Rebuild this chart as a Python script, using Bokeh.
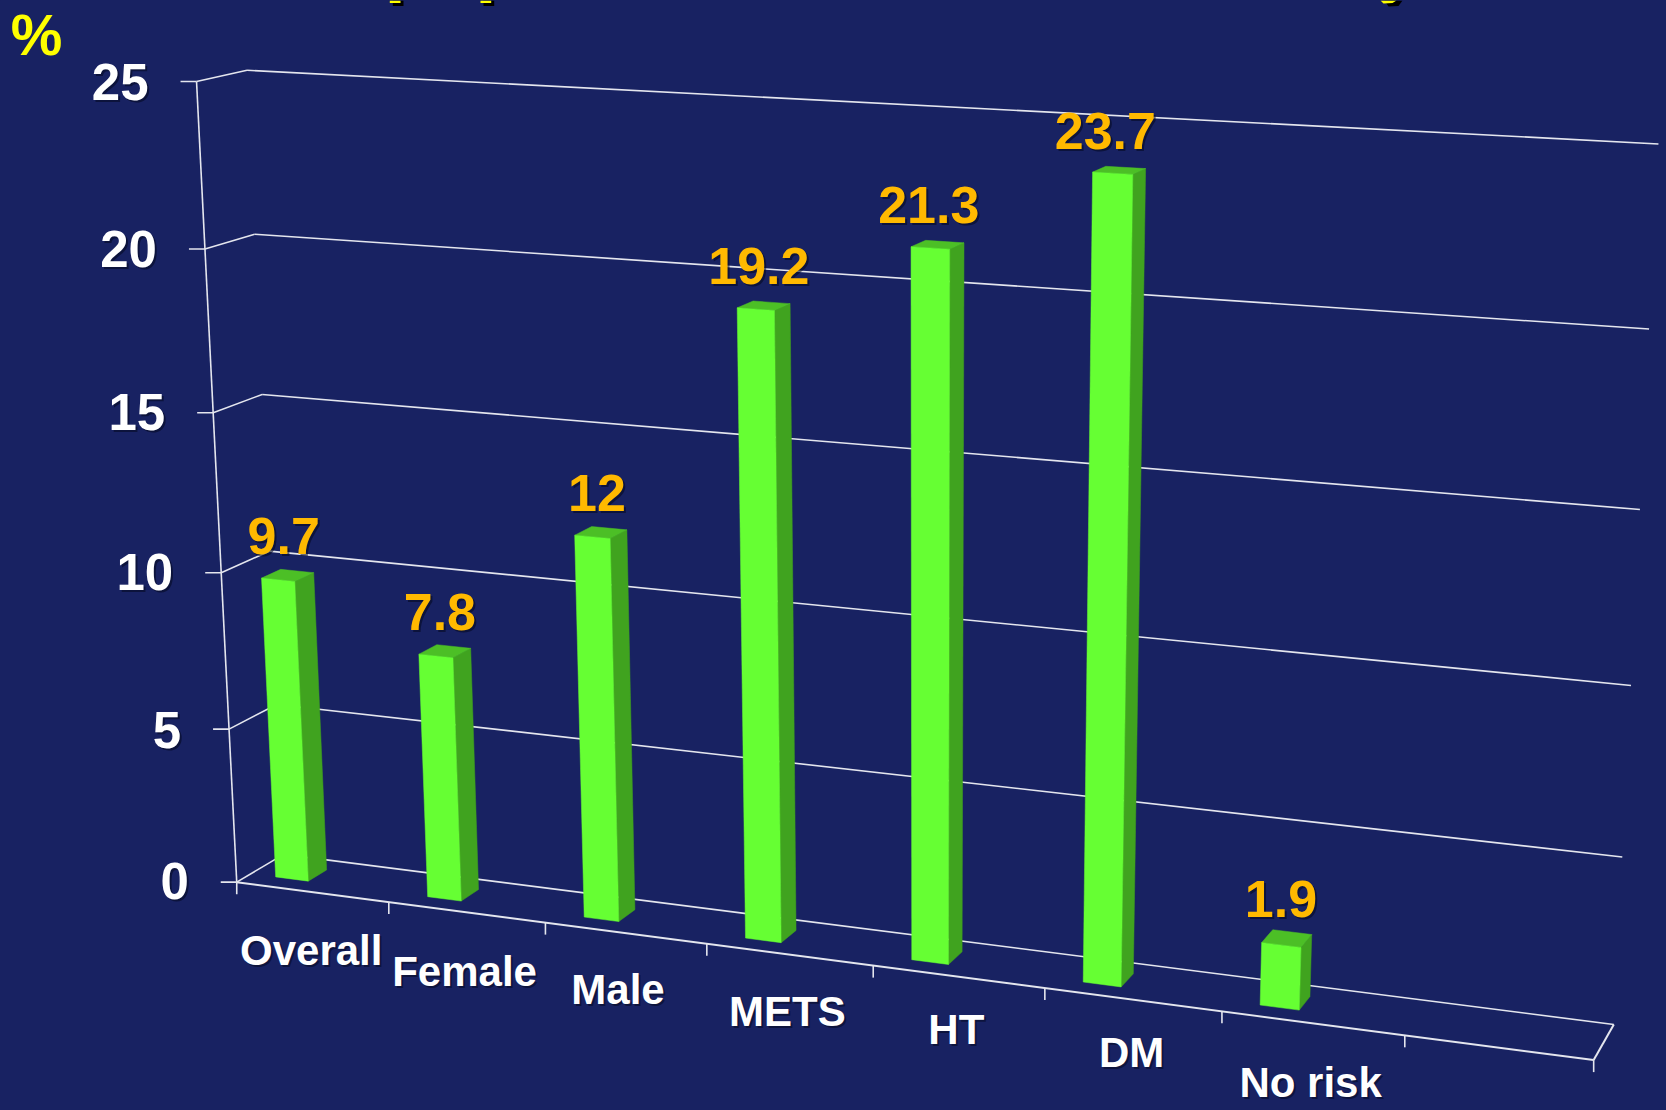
import numpy as np
from bokeh.core.properties import value
from bokeh.embed import file_html
from bokeh.models import Range1d
from bokeh.plotting import figure
from bokeh.resources import INLINE

# Chart content
categories = ["Overall", "Female", "Male", "METS", "HT", "DM", "No risk"]
prevalence = [9.7, 7.8, 12, 19.2, 21.3, 23.7, 1.9]
value_labels = ["9.7", "7.8", "12", "19.2", "21.3", "23.7", "1.9"]
value_ticks = [0, 5, 10, 15, 20, 25]
n_slots = 8
value_max = 25

# Styling
BG = "#182262"
GRID = "#E4E6EE"
FACE = "#66FF33"
SIDE = "#40A31F"
TOP = "#4CBF26"
LABEL_ORANGE = "#FFB900"
UNIT_YELLOW = "#FFFF00"
FONT = "Liberation Sans"
W, H = 1666, 1110

# Label nudges in canvas pixels
category_nudge_x = [-1, -2, -7.5, -2, -2, -1, -2]
category_nudge_y = [2, 3, 0, 1, -3, -3, 3]
value_nudge_x = [-5, -6, -5, -6, -10, -15, -7]
tick_nudge_y = [-1, 1, -1, -1, 0, 1]

# Camera calibration: (slot, value, depth) -> canvas position
CAMERA_POINTS = [
    (0, 0, 0, 235.7, 881.7), (0, 25, 0, 196, 82), (0, 25, 1, 245.7, 69.7),
    (0, 0, 1, 282.5, 852.7), (0, 20, 1, 254, 233), (0, 15, 1, 261, 393),
    (0, 10, 1, 269, 552.5), (0, 5, 1, 278, 706.6),
    (8, 0, 0, 1593, 1060), (8, 0, 1, 1613, 1023), (8, 25, 1, 1657.5, 143.4),
    (8, 20, 1, 1649, 329.4), (8, 15, 1, 1639.5, 509), (8, 10, 1, 1631, 685),
    (8, 5, 1, 1622, 855),
    (1, 0, 0, 388, 901.7), (2, 0, 0, 545, 922.4), (3, 0, 0, 705.5, 943.5),
    (4, 0, 0, 873, 965.5), (5, 0, 0, 1044.4, 988), (6, 0, 0, 1221, 1011.2),
    (7, 0, 0, 1404.6, 1035.4),
    (0, 20, 0, 205, 248), (0, 15, 0, 213, 412), (0, 10, 0, 221, 571),
    (0, 5, 0, 229, 727),
]


def fit_camera(points):
    rows, rhs = [], []
    for u, v, d, px, py in points:
        u, v = u / n_slots, v / value_max
        rows.append([u, v, d, 1, 0, 0, 0, 0, -px * u, -px * v, -px * d])
        rhs.append(px)
        rows.append([0, 0, 0, 0, u, v, d, 1, -py * u, -py * v, -py * d])
        rhs.append(py)
    return np.linalg.lstsq(np.array(rows), np.array(rhs), rcond=None)[0]


CAM = fit_camera(CAMERA_POINTS)


def project(slot, val, depth):
    u, v, d = slot / n_slots, val / value_max, depth
    w = CAM[8] * u + CAM[9] * v + CAM[10] * d + 1
    return ((CAM[0] * u + CAM[1] * v + CAM[2] * d + CAM[3]) / w,
            (CAM[4] * u + CAM[5] * v + CAM[6] * d + CAM[7]) / w)


p = figure(width=W, height=H, x_range=Range1d(0, W), y_range=Range1d(H, 0),
           output_backend="svg", toolbar_location=None, min_border=0,
           background_fill_color=BG, border_fill_color=BG, outline_line_color=None)
p.axis.visible = False
p.grid.visible = False


def rule(a, b, width=1.6):
    p.line([a[0], b[0]], [a[1], b[1]], line_color=GRID, line_width=width)


def label(x, y, text, color, size, align="center", shadow=2):
    if shadow:
        p.text([x + shadow], [y + shadow], text=[text], text_color="#04081E", text_alpha=0.55,
               text_font=value(FONT), text_font_style="bold", text_font_size=size,
               text_align=align, text_baseline="middle")
    p.text([x], [y], text=[text], text_color=color,
           text_font=value(FONT), text_font_style="bold", text_font_size=size,
           text_align=align, text_baseline="middle")


# Descender strokes of the slide heading, which runs off the top edge
stroke_left = [389.3, 480.0]
stroke_right = [400.0, 490.7]
p.quad(left=[a + 3 for a in stroke_left], right=[b + 3 for b in stroke_right],
       top=[0, 0], bottom=[5.5, 5.5], fill_color="#000000", line_color=None)
p.quad(left=stroke_left, right=stroke_right, top=[0, 0], bottom=[2.5, 2.5],
       fill_color=UNIT_YELLOW, line_color=None)
p.patch([1384, 1402, 1398, 1388], [0, 0, 5.5, 6], fill_color="#000000", line_color=None)
p.patch([1380, 1396, 1392, 1383], [0, 0, 2.5, 3], fill_color=UNIT_YELLOW, line_color=None)

# Value axis, left wall and back wall rules
rule(project(0, 0, 0), project(0, value_max, 0))
for v in value_ticks:
    front = project(0, v, 0)
    rule((front[0] - 16, front[1]), front)
    rule(front, project(0, v, 1))
    rule(project(0, v, 1), project(n_slots, v, 1))

# Floor outline and category ticks
rule(project(0, 0, 0), project(n_slots, 0, 0), 2)
rule(project(n_slots, 0, 0), project(n_slots, 0, 1), 2)
for s in range(n_slots + 1):
    base = project(s, 0, 0)
    rule(base, (base[0], base[1] + 12))

# Bars, each occupying the same fraction of its slot and the middle of the floor depth
SLOT_START, SLOT_END = 0.165, 0.382
DEPTH_FRONT, DEPTH_BACK = 0.30, 0.70
front_xs, front_ys, side_xs, side_ys, top_xs, top_ys = [], [], [], [], [], []
for i, v in enumerate(prevalence):
    l, r = i + SLOT_START, i + SLOT_END
    quads = {
        "front": [(l, 0, DEPTH_FRONT), (r, 0, DEPTH_FRONT), (r, v, DEPTH_FRONT), (l, v, DEPTH_FRONT)],
        "side": [(r, 0, DEPTH_FRONT), (r, 0, DEPTH_BACK), (r, v, DEPTH_BACK), (r, v, DEPTH_FRONT)],
        "top": [(l, v, DEPTH_FRONT), (r, v, DEPTH_FRONT), (r, v, DEPTH_BACK), (l, v, DEPTH_BACK)],
    }
    for name, xs, ys in (("front", front_xs, front_ys), ("side", side_xs, side_ys), ("top", top_xs, top_ys)):
        pts = [project(*q) for q in quads[name]]
        xs.append([a for a, _ in pts])
        ys.append([b for _, b in pts])

p.patches(side_xs, side_ys, fill_color=SIDE, line_color=SIDE, line_width=0.5)
p.patches(top_xs, top_ys, fill_color=TOP, line_color=TOP, line_width=0.5)
p.patches(front_xs, front_ys, fill_color=FACE, line_color=FACE, line_width=0.5)

# Value-axis tick labels
for v, nudge in zip(value_ticks, tick_nudge_y):
    x, y = project(0, v, 0)
    label(x - 48, y + nudge, str(v), "#FFFFFF", "51px", align="right")

# Category labels under the floor
for i, name in enumerate(categories):
    x, y = project(i + 0.5, 0, 0)
    label(x + category_nudge_x[i], y + 56 + category_nudge_y[i], name, "#FFFFFF", "42px")

# Value labels above the bars
for i, (v, text) in enumerate(zip(prevalence, value_labels)):
    x, y = project(i + 0.28, v, 0.5)
    label(x + value_nudge_x[i], y - 39.5, text, LABEL_ORANGE, "52px")

# Unit marker
label(36, 34, "%", UNIT_YELLOW, "58px", shadow=0)

html = file_html(p, INLINE)
html = html.replace("<head>", f"<head><style>html,body{{margin:0;background:{BG}}}</style>", 1)
open("out.html", "w").write(html)
